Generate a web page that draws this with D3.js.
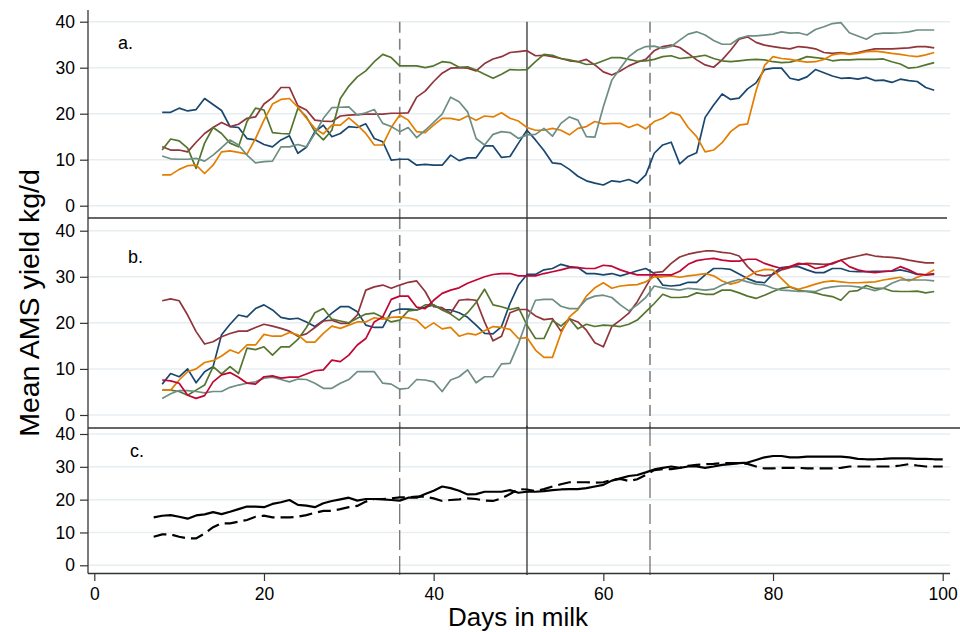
<!DOCTYPE html>
<html><head><meta charset="utf-8">
<script src="https://cdn.jsdelivr.net/npm/d3@7"></script>
<style>body{margin:0;background:#fff}svg{display:block}text{font-family:"Liberation Sans",Arial,sans-serif;fill:#000}</style>
</head><body><svg id="chart" width="960" height="632"></svg>
<script>
// ---------- data ----------
const daysAB = d3.range(8, 100);   // days in milk, panels a and b
const daysC = d3.range(7, 101);    // days in milk, panel c
const yTicks = [0, 10, 20, 30, 40];
const xTicks = [0, 20, 40, 60, 80, 100];
const refDashed = [36, 65.5];
const refSolid = [51];
const panelLabels = ["a.", "b.", "c."];
const xTitle = "Days in milk";
const yTitle = "Mean AMS yield kg/d";

const aNavy = [20.3,20.3,21.2,20.6,20.9,23.3,22.0,20.7,17.2,17.0,
14.6,14.3,13.3,12.8,14.3,15.2,11.4,12.7,16.1,17.5,
15.0,15.7,17.2,17.0,17.8,14.6,13.9,9.9,10.1,10.1,
8.8,9.0,8.8,8.8,11.0,9.8,10.4,10.4,13.0,13.0,
10.5,10.7,13.6,16.4,14.3,12.0,9.3,9.1,7.9,6.4,
5.4,4.9,4.5,5.4,5.2,5.7,4.9,6.7,11.4,13.2,
13.8,9.1,10.7,11.5,19.2,21.9,24.3,23.1,23.4,25.4,
26.7,29.6,29.9,29.9,27.7,27.3,28.0,29.6,28.9,28.2,
27.7,27.8,27.5,27.9,27.2,27.3,26.8,27.5,27.2,27.0,25.7,25.1];
const aMaroon = [12.8,12.1,12.1,11.7,13.8,15.7,17.0,18.1,17.2,17.7,
19.0,19.3,22.1,23.5,25.7,25.7,21.7,20.8,18.6,18.4,
18.3,19.5,19.7,19.8,19.9,19.9,19.9,20.1,20.1,20.2,
23.6,24.9,27.0,28.8,29.9,30.0,29.9,29.3,30.9,31.9,
32.4,33.3,33.5,33.7,32.6,32.7,32.4,32.0,31.5,31.3,
31.8,30.6,29.1,28.4,29.3,30.4,31.2,31.8,33.7,34.6,
34.9,34.4,33.1,31.7,30.6,30.1,31.7,33.8,36.2,36.7,
35.5,34.9,34.6,34.3,34.1,34.6,34.4,34.1,33.3,33.1,
33.3,33.0,33.3,33.7,34.1,34.1,34.1,34.2,34.3,34.6,34.6,34.3];
const aGreen = [12.1,14.5,14.1,12.5,8.1,13.6,17.0,15.7,13.6,12.8,
18.3,21.2,20.8,15.9,15.7,15.6,21.2,19.3,16.1,14.3,
16.4,23.3,26.0,28.0,29.3,31.3,32.9,32.2,30.4,30.4,
30.4,30.0,30.4,31.3,31.1,30.1,30.2,29.5,28.6,27.7,
28.6,29.6,29.5,29.6,31.3,32.9,32.7,32.0,31.7,31.3,
30.7,30.8,31.5,32.2,32.2,31.8,31.4,31.5,31.8,32.4,
32.6,32.0,32.2,32.4,32.7,32.0,31.5,31.3,31.5,31.7,
31.8,31.7,31.3,31.1,31.2,31.7,32.4,32.2,32.0,31.5,
31.7,31.7,31.8,31.8,31.8,31.9,31.3,30.8,29.9,30.1,30.6,31.1];
const aOrange = [6.7,6.7,7.9,8.7,8.8,7.0,8.8,11.7,11.9,11.6,
11.2,14.6,18.6,22.1,23.1,23.3,21.4,19.0,16.8,15.6,
17.5,17.5,19.1,17.5,15.7,13.2,13.2,17.0,19.7,18.6,
16.1,15.9,17.5,19.0,19.0,18.6,19.5,18.6,19.5,19.3,
20.2,19.0,18.4,17.0,16.4,16.4,16.8,16.4,15.4,16.8,
17.2,18.3,17.8,17.9,17.9,17.0,17.7,16.7,18.3,19.0,
20.3,19.7,17.0,15.0,11.7,12.1,13.7,16.1,17.5,17.8,
25.0,30.5,32.4,32.0,31.8,31.5,31.2,31.3,31.8,32.8,
33.1,32.9,33.1,33.5,33.6,33.4,33.1,32.9,32.6,32.4,32.8,33.3];
const aTeal = [10.8,10.2,10.1,10.1,10.3,9.7,11.0,12.6,14.3,13.2,
11.0,9.3,9.6,9.7,12.8,12.8,13.3,12.8,15.7,19.0,
21.3,21.4,21.5,19.7,20.2,20.9,17.9,17.2,16.1,17.0,
14.8,16.4,18.1,19.9,23.6,22.6,20.4,14.6,13.2,15.5,
16.1,15.9,14.6,15.4,15.5,16.8,15.1,17.9,19.3,18.6,
15.0,14.9,21.5,27.3,29.9,32.4,33.8,34.6,34.7,34.2,
34.6,36.0,37.3,37.8,37.1,35.9,35.1,35.1,36.4,36.9,
36.9,37.1,37.3,37.8,37.5,37.6,37.1,38.3,38.9,39.6,
39.8,37.6,36.9,36.2,37.3,37.5,37.5,37.6,37.8,38.2,38.2,38.2];

const bNavy = [6.7,9.0,8.3,10.0,7.0,9.4,10.5,17.4,19.7,21.7,
21.3,23.1,23.9,22.8,21.2,20.8,21.0,20.2,19.2,20.5,
22.1,23.5,23.5,22.4,19.5,19.0,19.0,22.4,23.0,23.0,
22.8,23.4,23.9,22.9,22.8,22.2,21.2,19.5,17.7,17.6,
19.2,24.2,28.2,30.5,30.5,31.5,31.8,32.7,32.2,32.0,
30.7,30.7,30.4,30.7,30.2,30.7,31.3,31.8,30.7,28.2,
28.0,28.2,28.8,28.8,30.4,31.8,31.8,31.6,30.6,29.6,
28.9,28.7,30.7,32.0,32.2,32.2,31.5,30.9,30.9,31.8,
31.8,31.2,31.1,31.1,31.2,31.2,31.2,31.5,31.1,30.5,30.4,30.5];
const bMaroon = [24.8,25.2,24.8,21.7,18.1,15.4,15.9,17.0,17.7,18.2,
18.2,19.0,19.7,19.3,18.8,18.2,17.1,17.6,19.0,20.4,
20.6,19.9,19.9,21.7,27.1,27.8,28.2,27.5,28.2,28.8,
29.1,26.8,23.5,23.3,22.1,24.9,25.1,24.9,20.2,16.1,
17.1,22.2,22.9,22.9,21.5,20.7,20.9,18.2,20.9,20.2,
18.4,15.7,14.8,19.2,20.6,22.1,24.6,27.8,30.9,31.1,
32.9,34.3,34.9,35.3,35.6,35.6,35.3,35.1,34.5,32.2,
30.5,30.2,30.5,31.5,32.0,32.7,32.9,32.8,32.7,32.8,
33.6,34.1,34.5,34.9,34.5,34.3,34.2,34.0,33.6,33.3,33.0,33.0];
const bGreen = [5.4,5.4,5.1,4.3,5.4,6.5,10.5,8.9,10.5,9.0,
14.5,14.2,14.8,13.0,14.8,14.8,16.4,19.0,22.2,23.1,
20.8,20.4,20.0,21.0,21.9,22.1,21.2,20.2,20.6,22.6,
22.8,23.9,23.9,22.8,21.9,20.6,22.2,24.4,27.3,23.9,
23.5,22.9,23.3,19.5,16.6,16.6,20.5,19.3,20.9,18.7,
19.7,19.2,19.5,19.4,19.2,19.7,20.6,22.4,24.2,26.2,
25.5,25.5,25.7,26.5,26.2,26.2,27.1,27.1,26.5,25.8,
25.3,26.0,26.8,27.5,27.8,27.1,26.8,26.5,26.0,25.7,
24.9,26.8,27.0,28.1,27.5,27.5,26.9,26.8,26.8,26.9,26.5,26.8];
const bOrange = [5.4,5.4,7.6,9.4,10.0,11.4,11.8,12.8,14.1,13.4,
15.2,15.2,17.5,17.1,17.1,17.9,17.4,15.8,15.8,17.7,
19.3,18.8,19.5,20.2,20.2,21.1,20.8,21.2,21.3,21.1,
20.6,18.8,20.0,18.7,19.0,17.1,17.7,17.4,18.3,19.2,
19.0,18.6,16.6,16.8,14.1,12.5,12.5,17.7,21.3,22.9,
25.8,27.6,28.7,27.5,28.0,28.2,28.3,28.9,30.0,30.0,
30.2,29.9,30.2,30.4,30.7,30.2,29.1,28.4,28.9,30.0,
31.1,31.6,31.5,29.6,27.8,27.3,27.8,28.4,28.9,29.1,
28.9,28.7,28.7,28.8,28.9,29.3,29.6,29.9,29.1,29.9,30.5,31.5];
const bTeal = [3.6,4.6,5.3,5.3,5.1,4.8,5.1,5.1,6.0,6.5,
6.9,7.2,8.0,8.2,7.7,7.2,7.8,7.7,6.9,5.8,
5.8,6.9,7.7,9.4,9.4,9.4,6.9,6.7,5.6,5.8,
7.7,7.6,7.2,5.1,7.6,8.3,9.8,7.0,8.3,8.3,
11.1,11.2,15.5,20.6,24.9,25.1,25.1,23.6,23.1,23.1,
25.1,25.8,26.0,25.5,23.9,22.6,23.9,25.5,28.0,27.6,
27.3,27.1,27.5,27.3,27.1,27.3,28.2,28.9,29.4,28.9,
28.4,28.2,27.5,27.1,27.0,26.8,26.9,26.8,27.5,27.8,
28.0,28.0,27.8,27.5,27.0,27.5,28.6,29.3,29.4,29.3,29.3,29.1];
const bRed = [7.6,7.4,6.9,4.3,3.6,4.2,7.2,8.7,9.2,8.2,
6.9,6.7,8.3,8.5,8.0,8.2,8.2,8.9,9.6,9.8,
11.9,11.6,13.0,15.2,16.6,20.2,21.3,25.1,25.8,25.8,
23.4,23.1,24.9,26.4,27.1,27.6,28.6,29.3,30.0,30.5,
30.7,30.7,30.2,30.2,30.2,30.7,31.1,31.5,32.0,32.0,
31.8,31.8,32.5,32.3,31.5,30.9,30.4,30.4,30.4,30.4,
30.4,31.2,32.7,33.5,33.8,34.0,33.6,33.4,33.4,33.8,
33.8,32.9,32.3,31.8,32.2,32.9,32.7,31.8,32.2,33.0,
33.6,32.2,31.5,31.1,30.9,31.1,31.3,32.2,31.5,30.6,30.4,30.7];

const cSolid = [14.6,15.1,15.3,14.8,14.2,15.2,15.5,16.2,15.6,16.3,
17.1,17.9,17.9,17.7,18.7,19.2,19.9,18.4,18.2,17.7,
18.9,19.6,20.1,20.6,19.7,20.2,20.2,20.1,19.9,19.7,
20.6,20.6,21.7,22.7,24.0,23.5,22.7,21.6,21.7,22.4,
22.4,22.4,22.9,
22.1,22.4,22.4,22.6,22.9,23.1,23.2,23.2,23.5,24.0,
24.5,25.8,26.5,27.2,27.5,28.3,29.2,29.7,30.1,29.7,
30.1,30.1,29.7,30.1,30.6,30.8,31.1,31.3,32.1,32.9,
33.3,33.3,32.9,32.9,33.1,33.1,33.1,33.1,33.1,32.9,
32.4,32.3,32.3,32.4,32.6,32.6,32.6,32.4,32.4,32.3,32.3];
const cDashed = [8.7,9.4,9.4,8.7,8.2,8.2,9.7,11.6,12.8,12.8,
13.3,13.8,14.8,15.1,14.6,14.6,14.6,14.8,15.3,16.0,
16.6,16.6,17.1,17.7,18.1,19.4,20.2,20.2,20.4,20.7,
20.7,20.9,20.9,20.4,19.6,19.9,20.1,20.4,20.2,19.7,
19.6,20.4,21.7,
23.2,23.1,22.6,23.2,24.0,24.7,25.3,25.3,25.3,25.2,
25.3,26.0,26.3,25.7,26.2,27.5,29.0,29.3,29.3,29.7,
30.3,30.6,30.8,30.9,31.1,31.1,31.1,30.9,30.1,29.5,
29.5,29.7,29.7,29.7,29.5,29.5,29.5,29.5,29.7,30.1,
30.1,30.1,30.1,30.1,30.1,30.4,30.8,30.4,30.1,30.1,30.1];

// ---------- styles ----------
const COL = {navy:"#1a476f", maroon:"#90353b", green:"#55752f", orange:"#e37e00", teal:"#6e8e84", red:"#c10534"};

const svg = d3.select("#chart");
const x = d3.scaleLinear().domain([0, 100]).range([94.3, 942.7]);
const axisX = 88;

const panels = [
  {label: panelLabels[0], y: d3.scaleLinear().domain([0,40]).range([205.7,21.7]), top: 10, bottom: 218, refTop: 21.7,
   lab: [118, 49], days: daysAB,
   series: [[aNavy,COL.navy],[aMaroon,COL.maroon],[aGreen,COL.green],[aOrange,COL.orange],[aTeal,COL.teal]]},
  {label: panelLabels[1], y: d3.scaleLinear().domain([0,40]).range([415,230.7]), top: 218, bottom: 428, refTop: 218,
   lab: [128, 263], days: daysAB,
   series: [[bNavy,COL.navy],[bMaroon,COL.maroon],[bGreen,COL.green],[bOrange,COL.orange],[bTeal,COL.teal],[bRed,COL.red]]},
  {label: panelLabels[2], y: d3.scaleLinear().domain([0,40]).range([565.3,434]), top: 428, bottom: 573, refTop: 426,
   lab: [130, 456.5], days: daysC,
   series: []}
];

panels.forEach((p, pi) => {
  const g = svg.append("g");
  // grid
  g.selectAll(".grid").data(yTicks).join("line")
    .attr("x1", axisX).attr("x2", 950)
    .attr("y1", d => p.y(d)).attr("y2", d => p.y(d))
    .attr("stroke", "#e6eef2").attr("stroke-width", 1.5);
  // reference lines
  const refBottom = pi === 2 ? 575 : p.bottom;
  g.selectAll(".rd").data(refDashed).join("line")
    .attr("x1", d => x(d)).attr("x2", d => x(d))
    .attr("y1", p.refTop).attr("y2", refBottom)
    .attr("stroke", pi === 2 ? "#6a6a6a" : "#808080")
    .attr("stroke-width", pi === 2 ? 1.2 : 1.6)
    .attr("stroke-dasharray", pi === 2 ? "20,6" : "11,6");
  g.selectAll(".rs").data(refSolid).join("line")
    .attr("x1", d => x(d)).attr("x2", d => x(d))
    .attr("y1", p.refTop).attr("y2", refBottom)
    .attr("stroke", "#222").attr("stroke-width", 1.2);
  // series
  const line = d3.line().x((d, i) => x(p.days[i])).y(d => p.y(d));
  p.series.forEach(([vals, col]) => {
    g.append("path").datum(vals).attr("d", line)
      .attr("fill", "none").attr("stroke", col).attr("stroke-width", 1.7)
      .attr("stroke-linejoin", "round");
  });
  if (pi === 2) {
    g.append("path").datum(cSolid).attr("d", line)
      .attr("fill", "none").attr("stroke", "#000").attr("stroke-width", 2.2).attr("stroke-linejoin", "round");
    g.append("path").datum(cDashed).attr("d", line)
      .attr("fill", "none").attr("stroke", "#000").attr("stroke-width", 2.2)
      .attr("stroke-dasharray", "13,6");
  }
  // y axis ticks
  const ax = g.append("g").attr("transform", `translate(${axisX},0)`)
    .call(d3.axisLeft(p.y).tickValues(yTicks).tickSize(8).tickPadding(5).tickFormat(d3.format("d")));
  ax.select(".domain").remove();
  ax.selectAll(".tick line").attr("stroke", "#333").attr("stroke-width", 1.2);
  ax.selectAll(".tick text").attr("font-size", 17.5).attr("font-family", "Liberation Sans, Arial, sans-serif").attr("fill", "#000");
  // panel label
  g.append("text").attr("x", p.lab[0]).attr("y", p.lab[1]).attr("font-size", 18).text(p.label);
});

// separators / axes
svg.append("line").attr("x1", axisX).attr("x2", 947).attr("y1", 218).attr("y2", 218).attr("stroke", "#333").attr("stroke-width", 1.3);
svg.append("line").attr("x1", axisX).attr("x2", 960).attr("y1", 428).attr("y2", 428).attr("stroke", "#333").attr("stroke-width", 1.3);
svg.append("line").attr("x1", axisX).attr("x2", axisX).attr("y1", 10).attr("y2", 573.6).attr("stroke", "#333").attr("stroke-width", 1.3);

const bx = svg.append("g").attr("transform", "translate(0,573)")
  .call(d3.axisBottom(x).tickValues(xTicks).tickSize(8).tickPadding(7).tickFormat(d3.format("d")));
bx.select(".domain").attr("d", `M${axisX},0.5H950`).attr("stroke", "#333").attr("stroke-width", 1.3);
bx.selectAll(".tick line").attr("stroke", "#333").attr("stroke-width", 1.2);
bx.selectAll(".tick text").attr("font-size", 17.5).attr("font-family", "Liberation Sans, Arial, sans-serif").attr("fill", "#000");

svg.append("text").attr("x", 518).attr("y", 626).attr("text-anchor", "middle").attr("font-size", 26).text(xTitle);
svg.append("text").attr("transform", "translate(39,303) rotate(-90)").attr("text-anchor", "middle").attr("font-size", 28.5).text(yTitle);
</script></body></html>
